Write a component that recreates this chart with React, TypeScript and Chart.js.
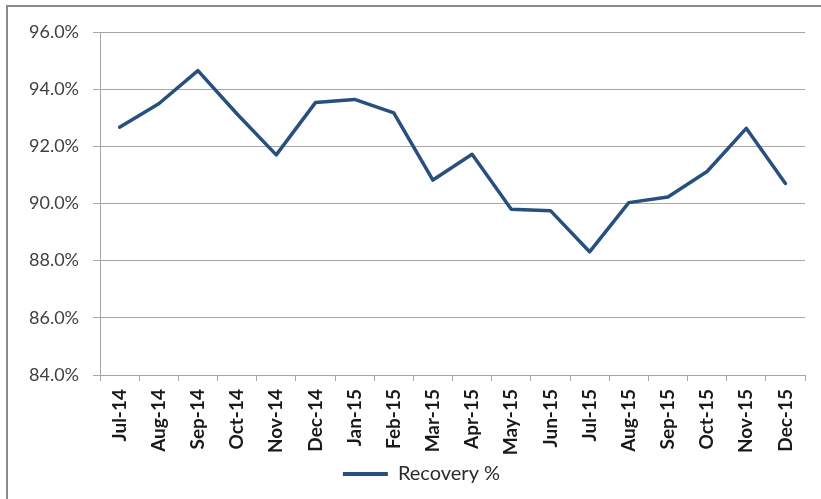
import React, { useEffect, useRef } from "react";
import { Chart, registerables } from "chart.js";

Chart.register(...registerables);

const categories = [
  "Jul-14", "Aug-14", "Sep-14", "Oct-14", "Nov-14", "Dec-14",
  "Jan-15", "Feb-15", "Mar-15", "Apr-15", "May-15", "Jun-15",
  "Jul-15", "Aug-15", "Sep-15", "Oct-15", "Nov-15", "Dec-15",
];
const recovery = [
  92.67, 93.49, 94.65, 93.13, 91.7, 93.53,
  93.64, 93.17, 90.82, 91.72, 89.8, 89.75,
  88.31, 90.03, 90.23, 91.12, 92.63, 90.7,
];
const seriesName = "Recovery %";
const yMin = 84;
const yMax = 96;
const yStep = 2;

export default function App() {
  const ref = useRef<HTMLCanvasElement | null>(null);

  useEffect(() => {
    if (!ref.current) return;
    const gridColor = "#a6a6a6";
    const lineColor = "#27507f";
    const legendShift = {
      id: "legendShift",
      afterLayout(c: any) {
        if (c.legend) {
          c.legend.left += 19;
          c.legend.right += 19;
        }
      },
    };
    const chart = new Chart(ref.current, {
      type: "line",
      data: {
        labels: categories,
        datasets: [
          {
            label: seriesName,
            data: recovery,
            borderColor: lineColor,
            backgroundColor: lineColor,
            borderWidth: 3.5,
            pointRadius: 0,
            tension: 0,
            borderJoinStyle: "round",
            borderCapStyle: "round",
          },
        ],
      },
      plugins: [legendShift],
      options: {
        responsive: false,
        animation: false,
        layout: { padding: { top: 32, right: 16, left: 0, bottom: 5 } },
        plugins: {
          tooltip: { enabled: false },
          legend: {
            position: "bottom",
            labels: {
              font: { family: "Lato", size: 20 },
              color: "#2b2b2b",
              boxWidth: 45,
              boxHeight: 4,
              padding: 10,
              generateLabels: (c: any) => {
                const items = Chart.defaults.plugins.legend.labels.generateLabels(c);
                return items.map((it: any) => ({ ...it, lineWidth: 0, fillStyle: lineColor }));
              },
            },
          },
        },
        scales: {
          x: {
            offset: true,
            grid: {
              drawOnChartArea: false,
              drawTicks: true,
              tickLength: 6,
              offset: true,
              color: gridColor,
            },
            border: { display: true, color: gridColor, width: 1 },
            ticks: {
              minRotation: 90,
              maxRotation: 90,
              autoSkip: false,
              padding: 8,
              color: "#1a1a1a",
              font: { family: "Lato", size: 19, weight: "bold" as any },
            },
            afterFit: (s: any) => {
              s.height = 79;
            },
          },
          y: {
            min: yMin,
            max: yMax,
            grid: { color: gridColor, tickLength: 7, drawTicks: true },
            border: { display: true, color: gridColor, width: 1 },
            ticks: {
              stepSize: yStep,
              padding: 14,
              color: "#404040",
              font: { family: "Lato", size: 18 },
              callback: (v: any) => Number(v).toFixed(1) + "%",
            },
            afterFit: (s: any) => {
              s.width = 100;
            },
          },
        },
      },
    });
    return () => chart.destroy();
  }, []);

  return (
    <div
      style={{
        position: "fixed",
        left: 0,
        top: 0,
        width: 821,
        height: 499,
        overflow: "hidden",
        background: "#ffffff",
      }}
    >
      <div
        style={{
          position: "absolute",
          left: 6,
          top: 5,
          width: 900,
          height: 600,
          border: "2px solid #8a8a8a",
        }}
      />
      <canvas
        ref={ref}
        width={821}
        height={499}
        style={{ position: "absolute", left: 0, top: 0 }}
      />
    </div>
  );
}
